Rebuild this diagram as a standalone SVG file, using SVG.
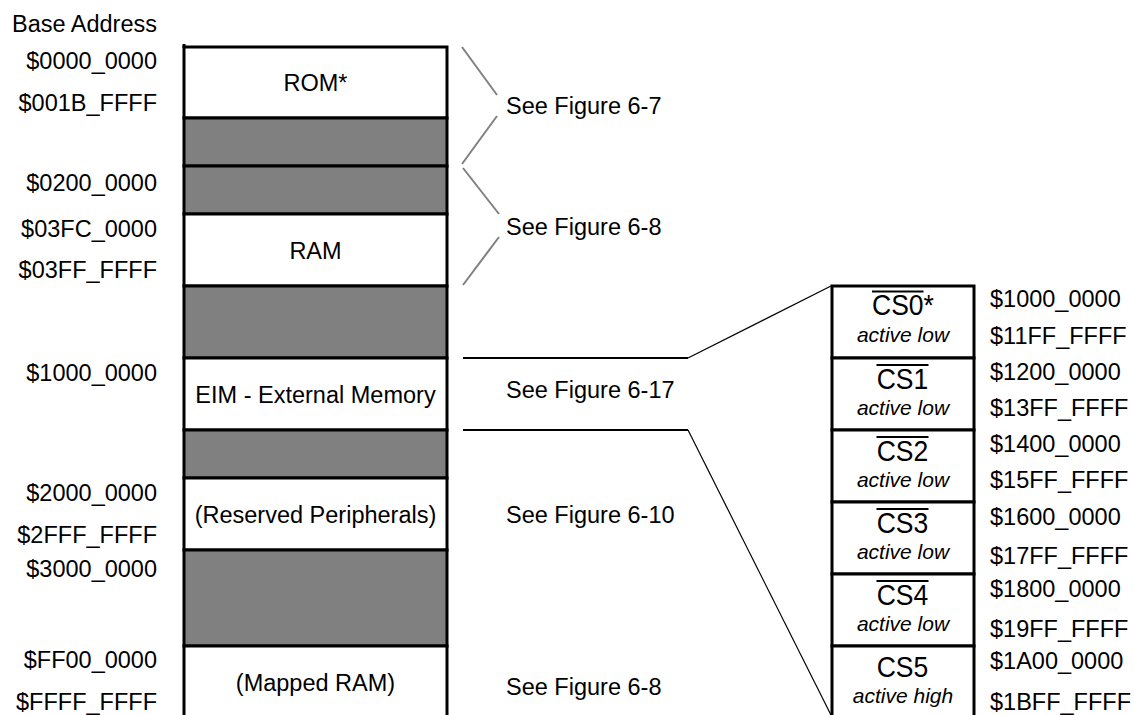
<svg xmlns="http://www.w3.org/2000/svg" width="1134" height="715" viewBox="0 0 1134 715">
  <style>
    text { font-family: "Liberation Sans", Arial, sans-serif; fill: #000; }
    .addr { font-size: 23.5px; text-anchor: end; }
    .addr-r { font-size: 23.5px; text-anchor: start; }
    .lbl { font-size: 23.5px; text-anchor: middle; }
    .see { font-size: 23.5px; text-anchor: start; }
    .cs { font-size: 26.5px; text-anchor: middle; }
    .cs-start { font-size: 26.5px; text-anchor: start; }
    .pol { font-size: 21px; font-style: italic; text-anchor: middle; }
    .blk { stroke: #000; stroke-width: 3; }
    .used { fill: #fff; }
    .gap { fill: #808080; }
    .bar { stroke: #000; stroke-width: 1.8; }
    .brace { stroke: #808080; stroke-width: 2; fill: none; }
    .lead { stroke: #000; stroke-width: 2; fill: none; }
    .lead-thin { stroke: #000; stroke-width: 1.2; fill: none; }
  </style>

  <!-- column heading and base addresses -->
  <g id="addresses">
    <text class="addr" x="157" y="32">Base Address</text>
    <text class="addr" x="157" y="69">$0000_0000</text>
    <text class="addr" x="157" y="111">$001B_FFFF</text>
    <text class="addr" x="157" y="191">$0200_0000</text>
    <text class="addr" x="157" y="237">$03FC_0000</text>
    <text class="addr" x="157" y="278">$03FF_FFFF</text>
    <text class="addr" x="157" y="381">$1000_0000</text>
    <text class="addr" x="157" y="501">$2000_0000</text>
    <text class="addr" x="157" y="543">$2FFF_FFFF</text>
    <text class="addr" x="157" y="577">$3000_0000</text>
    <text class="addr" x="157" y="668">$FF00_0000</text>
    <text class="addr" x="157" y="710">$FFFF_FFFF</text>
  </g>

  <!-- main memory map column -->
  <g id="rom">
    <rect class="used blk" x="184" y="47" width="263" height="71"/>
    <text class="lbl" x="315.5" y="91">ROM*</text>
  </g>
  <g id="gap-1">
    <rect class="gap blk" x="184" y="118" width="263" height="48"/>
  </g>
  <g id="gap-2">
    <rect class="gap blk" x="184" y="166" width="263" height="48"/>
  </g>
  <g id="ram">
    <rect class="used blk" x="184" y="214" width="263" height="72"/>
    <text class="lbl" x="315.5" y="259">RAM</text>
  </g>
  <g id="gap-3">
    <rect class="gap blk" x="184" y="286" width="263" height="72"/>
  </g>
  <g id="eim">
    <rect class="used blk" x="184" y="358" width="263" height="72"/>
    <text class="lbl" x="315.5" y="403">EIM - External Memory</text>
  </g>
  <g id="gap-4">
    <rect class="gap blk" x="184" y="430" width="263" height="48"/>
  </g>
  <g id="peripherals">
    <rect class="used blk" x="184" y="478" width="263" height="72"/>
    <text class="lbl" x="315.5" y="523">(Reserved Peripherals)</text>
  </g>
  <g id="gap-5">
    <rect class="gap blk" x="184" y="550" width="263" height="96"/>
  </g>
  <g id="mapped-ram">
    <rect class="used blk" x="184" y="646" width="263" height="80"/>
    <text class="lbl" x="315.5" y="691">(Mapped RAM)</text>
  </g>
  <line class="blk" x1="184" y1="44" x2="184" y2="48"/>

  <!-- cross references -->
  <g id="refs">
    <text class="see" x="506" y="114">See Figure 6-7</text>
    <text class="see" x="506" y="235">See Figure 6-8</text>
    <text class="see" x="506" y="398">See Figure 6-17</text>
    <text class="see" x="506" y="523">See Figure 6-10</text>
    <text class="see" x="506" y="695">See Figure 6-8</text>
  </g>

  <!-- chip-select expansion of the EIM window -->
  <g id="cs0">
    <rect class="used blk" x="832" y="286" width="142" height="72"/>
    <line class="bar" x1="872" y1="291.5" x2="923.5" y2="291.5"/>
    <text class="cs-start" transform="translate(872 315) scale(1 1.08)">CS0*</text>
    <text class="pol" transform="translate(903 342)">active low</text>
  </g>
  <g id="cs1">
    <rect class="used blk" x="832" y="358" width="142" height="72"/>
    <line class="bar" x1="876.5" y1="365" x2="928.5" y2="365"/>
    <text class="cs" transform="translate(902.5 389) scale(1 1.08)">CS1</text>
    <text class="pol" transform="translate(903 415)">active low</text>
  </g>
  <g id="cs2">
    <rect class="used blk" x="832" y="430" width="142" height="72"/>
    <line class="bar" x1="876.5" y1="437" x2="928.5" y2="437"/>
    <text class="cs" transform="translate(902.5 461) scale(1 1.08)">CS2</text>
    <text class="pol" transform="translate(903 487)">active low</text>
  </g>
  <g id="cs3">
    <rect class="used blk" x="832" y="502" width="142" height="72"/>
    <line class="bar" x1="876.5" y1="509" x2="928.5" y2="509"/>
    <text class="cs" transform="translate(902.5 533) scale(1 1.08)">CS3</text>
    <text class="pol" transform="translate(903 559)">active low</text>
  </g>
  <g id="cs4">
    <rect class="used blk" x="832" y="574" width="142" height="72"/>
    <line class="bar" x1="876.5" y1="581" x2="928.5" y2="581"/>
    <text class="cs" transform="translate(902.5 605) scale(1 1.08)">CS4</text>
    <text class="pol" transform="translate(903 631)">active low</text>
  </g>
  <g id="cs5">
    <rect class="used blk" x="832" y="646" width="142" height="80"/>
    <text class="cs" transform="translate(902.5 677) scale(1 1.08)">CS5</text>
    <text class="pol" transform="translate(903 703)">active high</text>
  </g>

  <!-- chip-select address ranges -->
  <g id="cs-addresses">
    <text class="addr-r" x="990" y="307">$1000_0000</text>
    <text class="addr-r" x="990" y="344">$11FF_FFFF</text>
    <text class="addr-r" x="990" y="380">$1200_0000</text>
    <text class="addr-r" x="990" y="416">$13FF_FFFF</text>
    <text class="addr-r" x="990" y="452">$1400_0000</text>
    <text class="addr-r" x="990" y="488">$15FF_FFFF</text>
    <text class="addr-r" x="990" y="525">$1600_0000</text>
    <text class="addr-r" x="990" y="564">$17FF_FFFF</text>
    <text class="addr-r" x="990" y="597">$1800_0000</text>
    <text class="addr-r" x="990" y="637">$19FF_FFFF</text>
    <text class="addr-r" x="990" y="669">$1A00_0000</text>
    <text class="addr-r" x="990" y="710">$1BFF_FFFF</text>
  </g>

  <!-- connectors -->
  <g id="connectors">
    <line class="brace" x1="462" y1="47" x2="497" y2="95"/>
    <line class="brace" x1="497" y1="116" x2="462" y2="164"/>
    <line class="brace" x1="463" y1="168" x2="499" y2="214"/>
    <line class="brace" x1="499" y1="237" x2="463" y2="285"/>
    <line class="lead" x1="463" y1="358" x2="688" y2="358"/>
    <line class="lead-thin" x1="688" y1="358" x2="831" y2="286"/>
    <line class="lead" x1="463" y1="430" x2="688" y2="430"/>
    <line class="lead-thin" x1="688" y1="430" x2="831" y2="715"/>
  </g>
</svg>
